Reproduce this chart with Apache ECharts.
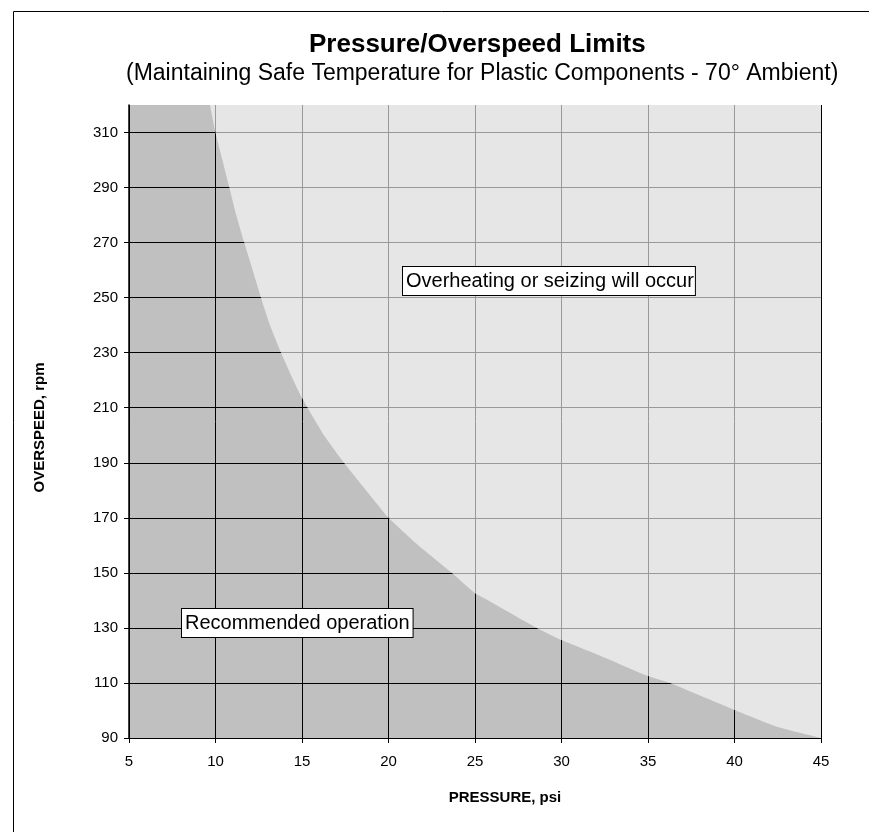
<!DOCTYPE html>
<html>
<head>
<meta charset="utf-8">
<script src="https://cdn.jsdelivr.net/npm/echarts@6/dist/echarts.min.js"></script>
<style>
html,body{margin:0;padding:0;background:#fff;}
#chart{width:869px;height:832px;}
</style>
</head>
<body>
<div id="chart"></div>
<script>
// Limit curve: pressure (psi) vs overspeed (rpm)
var pressure  = [9.68, 10, 10.4, 10.8, 11.2, 11.66, 12.15, 12.63, 13.15, 13.79, 14.5, 15, 16.27, 17.43, 18.7, 20, 21.72, 23.65, 25, 25.77, 28.57, 30, 32.2, 35, 36.27, 40, 42.5, 45];
var overspeed = [320, 310, 300, 290, 280, 270, 260, 250, 240, 230, 220, 213.5, 200, 190, 180, 170, 160, 150, 142.6, 140, 130, 125.6, 120, 112.5, 110, 100.2, 94, 90];

var xTicks = [5, 10, 15, 20, 25, 30, 35, 40, 45];
var yTicks = [90, 110, 130, 150, 170, 190, 210, 230, 250, 270, 290, 310];

var titleText = 'Pressure/Overspeed Limits';
var subtitleText = '(Maintaining Safe Temperature for Plastic Components - 70\u00b0 Ambient)';
var xName = 'PRESSURE, psi';
var yName = 'OVERSPEED, rpm';
var noteUpper = 'Overheating or seizing will occur';
var noteLower = 'Recommended operation';

var FONT = '"Liberation Sans", Arial, Helvetica, sans-serif';

var curve = pressure.map(function (p, i) { return [p, overspeed[i]]; });

var chart = echarts.init(document.getElementById('chart'), null, {renderer: 'canvas'});
chart.setOption({
  backgroundColor: '#fff',
  animation: false,
  title: [
    {text: titleText, left: 309, top: 32, padding: 0,
     textStyle: {fontFamily: FONT, fontSize: 26, fontWeight: 'bold', color: '#000'}},
    {text: subtitleText, left: 126, top: 62, padding: 0,
     textStyle: {fontFamily: FONT, fontSize: 23, fontWeight: 'normal', color: '#000'}}
  ],
  grid: {left: 129, right: 48, top: 105, bottom: 94, show: true,
         backgroundColor: '#c0c0c0', borderWidth: 0, containLabel: false},
  xAxis: {
    type: 'value', min: 5, max: 45, interval: 5,
    name: xName, nameLocation: 'middle', nameGap: 52,
    nameTextStyle: {fontFamily: FONT, fontSize: 15, fontWeight: 'bold', color: '#000', padding: [0, 0, 0, 60]},
    axisLine: {show: true, lineStyle: {color: '#000', width: 1}},
    axisTick: {show: true, inside: false, length: 5, lineStyle: {color: '#000'}, customValues: xTicks},
    axisLabel: {fontFamily: FONT, fontSize: 15, color: '#000', margin: 16, customValues: xTicks},
    splitLine: {show: true, lineStyle: {color: '#000', width: 1}}
  },
  yAxis: {
    type: 'value', min: 90, max: 320, interval: 10,
    name: yName, nameLocation: 'middle', nameGap: 82, nameRotate: 90,
    nameTextStyle: {fontFamily: FONT, fontSize: 15, fontWeight: 'bold', color: '#000', padding: [0, 12, 0, 0]},
    axisLine: {show: true, lineStyle: {color: '#000', width: 1.5}},
    axisTick: {show: true, inside: false, length: 5, lineStyle: {color: '#000'}, customValues: yTicks},
    axisLabel: {fontFamily: FONT, fontSize: 15, color: '#000', margin: 11, customValues: yTicks},
    splitLine: {show: true, lineStyle: {color: '#000', width: 1}}
  },
  series: [
    {
      type: 'line', name: 'limit', data: curve, smooth: 0.15,
      symbol: 'none', lineStyle: {width: 0},
      areaStyle: {origin: 'end', color: 'rgba(255,255,255,0.6)', opacity: 1},
      silent: true, z: 3
    }
  ],
  graphic: [
    {type: 'rect', left: 11, top: 9, z: 100, silent: true,
     shape: {x: 0, y: 0, width: 1000, height: 1000},
     style: {fill: 'none', stroke: '#000', lineWidth: 1}},
    {type: 'text', x: 403, y: 267, z: 100,
     style: {text: noteUpper, fontFamily: FONT, fontSize: 20, fill: '#000', lineHeight: 21,
             backgroundColor: '#fff', borderColor: '#000', borderWidth: 1, padding: [4, 1, 3, 3]}},
    {type: 'text', x: 182, y: 609, z: 100,
     style: {text: noteLower, fontFamily: FONT, fontSize: 20, fill: '#000', lineHeight: 21,
             backgroundColor: '#fff', borderColor: '#000', borderWidth: 1, padding: [4, 3, 3, 3]}}
  ]
});
</script>
</body>
</html>
